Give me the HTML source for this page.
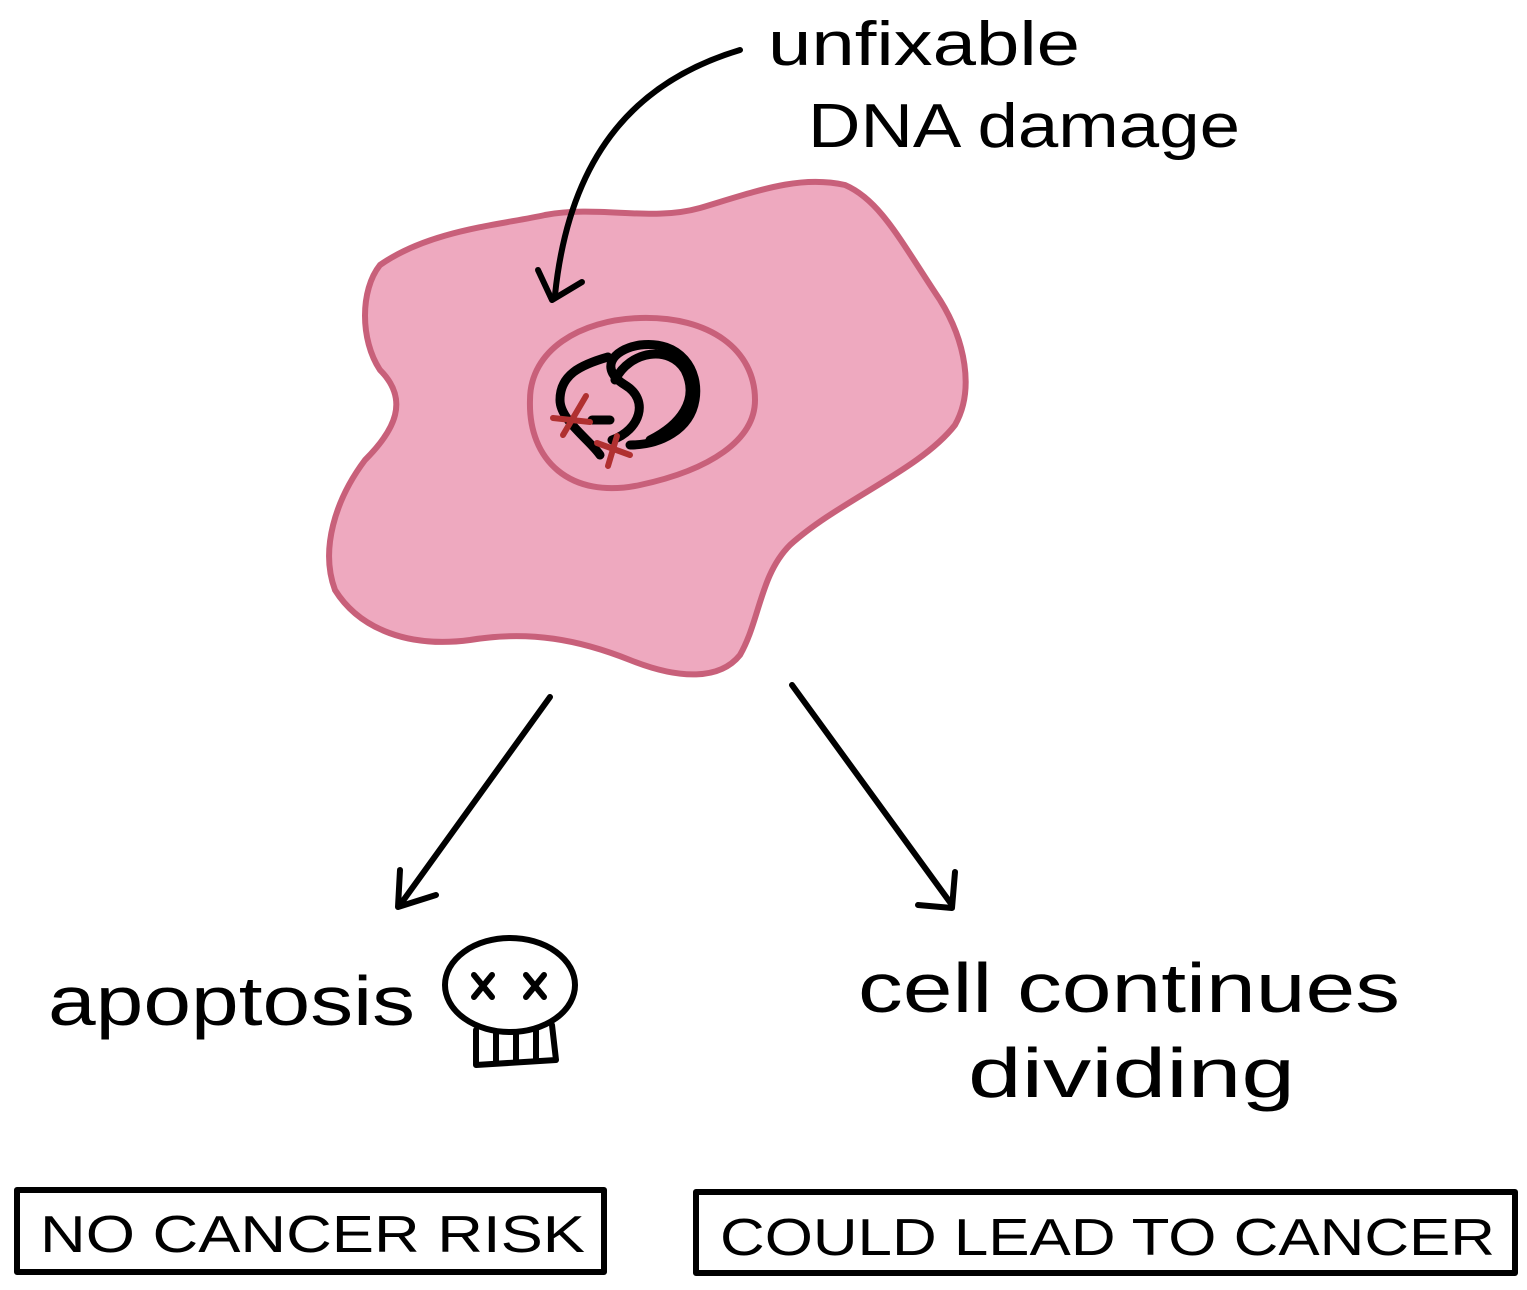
<!DOCTYPE html>
<html><head><style>
html,body{margin:0;padding:0;background:#fff;}
svg{display:block}
text{font-family:"Liberation Sans",sans-serif;fill:#000;}
</style></head><body>
<svg width="1527" height="1290" viewBox="0 0 1527 1290" xmlns="http://www.w3.org/2000/svg">
<path d="M380,265 C430,230 500,225 545,215 C600,205 650,222 700,208 C760,190 800,175 845,185 C880,200 900,240 940,300 C965,340 975,390 955,425 C920,470 840,500 790,545 C760,575 760,620 740,655 C720,680 680,680 630,660 C580,640 530,630 470,640 C410,648 360,630 335,590 C320,550 335,500 365,460 C395,430 410,400 380,370 C360,340 360,290 380,265 Z" fill="#eea9bf" stroke="#c8607a" stroke-width="6"/>
<path d="M530,400 C530,350 580,320 640,318 C710,316 755,350 755,400 C755,440 710,470 640,485 C570,500 528,460 530,400 Z" fill="none" stroke="#c8607a" stroke-width="6"/>
<g fill="none" stroke="#000" stroke-width="9" stroke-linecap="round">
<path d="M608,357 C580,365 560,375 560,400 C560,420 590,440 600,455"/>
<path d="M592,420 L610,420"/>
<path d="M612,440 C640,430 650,400 625,385 C600,370 610,350 640,345 C680,340 700,370 695,400 C690,430 660,445 630,445"/>
<path d="M615,380 C630,350 670,345 685,370 C700,400 680,425 650,440"/>
</g>
<g stroke="#b03030" stroke-width="6" stroke-linecap="round">
<line x1="586" y1="396" x2="563" y2="435"/><line x1="553" y1="418" x2="590" y2="422"/>
<line x1="617" y1="436" x2="608" y2="466"/><line x1="597" y1="443" x2="630" y2="455"/>
</g>
<g fill="none" stroke="#000" stroke-width="6" stroke-linecap="round" stroke-linejoin="round">
<path d="M740,50 C640,80 570,150 555,295"/>
<path d="M538,270 L552,300 L582,282"/>
<path d="M550,697 L400,905"/>
<path d="M400,870 L398,907 L436,895"/>
<path d="M792,685 L952,905"/>
<path d="M918,905 L952,908 L955,872"/>
<ellipse cx="510" cy="985" rx="65" ry="47"/>
<path d="M476,1030 L476,1065 L556,1060 L552,1025"/>
<path d="M496,1032 L496,1062 M516,1032 L516,1062 M536,1030 L536,1060"/>
<path d="M474,975 L492,997 M492,975 L474,997 M526,975 L544,997 M544,975 L526,997"/>
<rect x="17" y="1190" width="587" height="82"/>
<rect x="696" y="1192" width="819" height="81"/>
</g>
<text x="768" y="65" font-size="62" textLength="312" lengthAdjust="spacingAndGlyphs">unfixable</text>
<text x="808" y="147" font-size="62" textLength="432" lengthAdjust="spacingAndGlyphs">DNA damage</text>
<text x="48" y="1025" font-size="70" textLength="367" lengthAdjust="spacingAndGlyphs">apoptosis</text>
<text x="858" y="1012" font-size="70" textLength="542" lengthAdjust="spacingAndGlyphs">cell continues</text>
<text x="968" y="1097" font-size="70" textLength="327" lengthAdjust="spacingAndGlyphs">dividing</text>
<text x="40" y="1252" font-size="52" textLength="545" lengthAdjust="spacingAndGlyphs">NO CANCER RISK</text>
<text x="720" y="1255" font-size="52" textLength="775" lengthAdjust="spacingAndGlyphs">COULD LEAD TO CANCER</text>
</svg>
</body></html>
